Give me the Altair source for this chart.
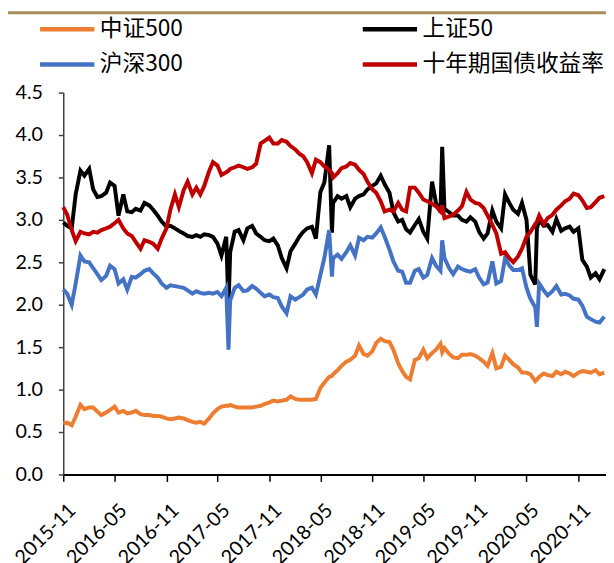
import altair as alt
import pandas as pd

series_names = ["中证500", "上证50", "沪深300", "十年期国债收益率"]
series_colors = ["#ED7D31", "#000000", "#4472C4", "#C00000"]
# the legend fills its two columns top-down, so this order gives rows 中证500/上证50, 沪深300/十年期
legend_order = ["中证500", "沪深300", "上证50", "十年期国债收益率"]
legend_colors = ["#ED7D31", "#4472C4", "#000000", "#C00000"]

# half-month sampling dates, 2015-11-01 ... 2021-02-01
dates = []
for yr in range(2015, 2022):
    for mo in range(1, 13):
        for dd in (1, 15):
            s = f"{yr}-{mo:02d}-{dd:02d}"
            if "2015-11-01" <= s <= "2021-02-01":
                dates.append(s)

orange = [0.60, 0.61, 0.58, 0.68, 0.82, 0.77, 0.79, 0.79, 0.74, 0.70, 0.73, 0.76, 0.80, 0.73, 0.75, 0.72,
          0.73, 0.75, 0.71, 0.70, 0.70, 0.69, 0.69, 0.68, 0.66, 0.65, 0.66, 0.67, 0.66, 0.64, 0.62, 0.61,
          0.62, 0.60, 0.66, 0.72, 0.77, 0.80, 0.81, 0.82, 0.80, 0.79, 0.79, 0.79, 0.79, 0.80, 0.81, 0.83,
          0.85, 0.87, 0.86, 0.87, 0.88, 0.92, 0.89, 0.88, 0.88, 0.88, 0.88, 0.89, 1.02, 1.08, 1.15,
          1.18, 1.23, 1.28, 1.33, 1.35, 1.40, 1.52, 1.42, 1.40, 1.45, 1.55, 1.60, 1.57, 1.56, 1.47, 1.31,
          1.22, 1.15, 1.12, 1.35, 1.37, 1.47, 1.37, 1.43, 1.47, 1.54, 1.49, 1.42, 1.38, 1.37, 1.41, 1.41,
          1.42, 1.40, 1.37, 1.33, 1.28, 1.43, 1.25, 1.27, 1.40, 1.35, 1.30, 1.26, 1.20, 1.20, 1.18, 1.10,
          1.15, 1.19, 1.17, 1.16, 1.21, 1.18, 1.21, 1.19, 1.16, 1.20, 1.22, 1.21, 1.20, 1.23, 1.18, 1.20]

black = [2.97, 2.93, 2.90, 3.30, 3.58, 3.52, 3.60, 3.36, 3.27, 3.28, 3.32, 3.44, 3.40, 3.05, 3.30, 3.10,
         3.09, 3.13, 3.11, 3.20, 3.17, 3.12, 3.05, 2.98, 2.92, 2.93, 2.90, 2.87, 2.84, 2.81, 2.80, 2.82,
         2.80, 2.83, 2.82, 2.80, 2.72, 2.58, 2.80, 2.62, 2.86, 2.88, 2.76, 2.90, 2.93, 2.84, 2.80, 2.76,
         2.75, 2.78, 2.70, 2.55, 2.43, 2.63, 2.72, 2.80, 2.86, 2.90, 2.92, 2.78, 3.33, 3.44, 3.88,
         3.20, 3.28, 3.25, 3.28, 3.15, 3.25, 3.28, 3.30, 3.36, 3.40, 3.43, 3.52, 3.42, 3.32, 3.09, 2.98,
         3.00, 2.89, 2.85, 2.94, 3.01, 2.86, 2.78, 3.45, 3.20, 3.09, 3.13, 3.09, 3.05, 3.05, 3.00, 2.98,
         3.03, 2.98, 2.86, 2.78, 2.84, 3.11, 2.98, 2.90, 3.30, 3.20, 3.12, 3.07, 3.20, 3.00, 2.35, 2.24,
         3.00, 2.93, 2.94, 2.86, 3.01, 2.87, 2.90, 2.92, 2.86, 2.90, 2.53, 2.45, 2.32, 2.37, 2.30, 2.42]

blue = [2.18, 2.13, 2.00, 2.25, 2.58, 2.51, 2.50, 2.43, 2.36, 2.29, 2.34, 2.46, 2.42, 2.25, 2.30, 2.18,
        2.33, 2.32, 2.36, 2.40, 2.42, 2.37, 2.32, 2.25, 2.20, 2.23, 2.22, 2.21, 2.20, 2.17, 2.13, 2.16,
        2.14, 2.13, 2.14, 2.13, 2.15, 2.10, 2.20, 2.05, 2.20, 2.23, 2.16, 2.17, 2.22, 2.19, 2.14, 2.10,
        2.12, 2.09, 2.08, 1.98, 1.90, 2.10, 2.06, 2.09, 2.12, 2.18, 2.20, 2.12, 2.35, 2.55, 2.88,
        2.55, 2.59, 2.54, 2.62, 2.70, 2.58, 2.79, 2.76, 2.80, 2.79, 2.84, 2.91, 2.80, 2.65, 2.51, 2.40,
        2.39, 2.26, 2.26, 2.40, 2.42, 2.32, 2.35, 2.55, 2.46, 2.40, 2.55, 2.43, 2.36, 2.45, 2.42, 2.40,
        2.39, 2.42, 2.32, 2.24, 2.26, 2.51, 2.25, 2.28, 2.55, 2.46, 2.41, 2.41, 2.43, 2.20, 2.07, 1.97,
        2.25, 2.17, 2.11, 2.16, 2.22, 2.12, 2.13, 2.11, 2.07, 2.06, 1.99, 1.86, 1.83, 1.80, 1.79, 1.86]

red = [3.15, 3.06, 2.88, 2.75, 2.86, 2.84, 2.83, 2.86, 2.85, 2.88, 2.90, 2.92, 2.96, 3.00, 2.90, 2.84,
       2.81, 2.74, 2.66, 2.76, 2.74, 2.72, 2.66, 2.78, 2.90, 3.12, 3.30, 3.15, 3.35, 3.45, 3.30, 3.38,
       3.30, 3.40, 3.57, 3.68, 3.64, 3.53, 3.56, 3.60, 3.62, 3.64, 3.62, 3.60, 3.62, 3.66, 3.90, 3.93,
       3.97, 3.90, 3.90, 3.94, 3.92, 3.87, 3.83, 3.78, 3.75, 3.68, 3.55, 3.71, 3.68, 3.63, 3.59,
       3.50, 3.55, 3.61, 3.63, 3.67, 3.65, 3.59, 3.54, 3.45, 3.36, 3.32, 3.22, 3.10, 3.12, 3.10, 3.20,
       3.12, 3.10, 3.38, 3.38, 3.32, 3.24, 3.22, 3.19, 3.16, 3.10, 3.02, 3.04, 3.06, 3.11, 3.16, 3.33,
       3.24, 3.20, 3.19, 3.14, 3.05, 2.94, 2.84, 2.60, 2.62, 2.55, 2.50, 2.57, 2.66, 2.80, 2.86, 2.95,
       3.05, 2.95, 3.02, 3.06, 3.12, 3.17, 3.22, 3.25, 3.31, 3.29, 3.23, 3.14, 3.15, 3.21, 3.26, 3.28]

# short one-day spikes read between the sampling dates
extra_dates = ["2017-06-09", "2018-06-11", "2019-07-07", "2020-06-07"]
extra_orange = [0.81, 1.16, 1.44, 1.12]
extra_black = [1.97, 2.85, 3.86, 2.90]
extra_blue = [1.47, 2.33, 2.76, 1.74]
extra_red = [3.58, 3.55, 3.17, 2.98]

all_dates = dates + extra_dates
values = {
    "中证500": orange + extra_orange,
    "上证50": black + extra_black,
    "沪深300": blue + extra_blue,
    "十年期国债收益率": red + extra_red,
}
rows = []
for name in series_names:
    for d, v in zip(all_dates, values[name]):
        rows.append({"date": d, "value": v, "series": name})
df = pd.DataFrame(rows).sort_values(["series", "date"])

tick_dates = [alt.DateTime(year=y, month=m, date=1, utc=True)
              for y, m in [(2015, 11), (2016, 5), (2016, 11), (2017, 5), (2017, 11), (2018, 5),
                           (2018, 11), (2019, 5), (2019, 11), (2020, 5), (2020, 11)]]
y_ticks = [0.0, 0.5, 1.0, 1.5, 2.0, 2.5, 3.0, 3.5, 4.0, 4.5]

x_enc = alt.X(
    "date:T",
    title=None,
    scale=alt.Scale(type="utc",
                    domain=[alt.DateTime(year=2015, month=11, date=1, utc=True),
                            alt.DateTime(year=2021, month=2, date=7, utc=True)]),
    axis=alt.Axis(values=tick_dates, labelExpr="utcFormat(datum.value, '%Y-%m')", labelAngle=-45,
                  labelAlign="right", labelBaseline="middle", labelPadding=26, labelOffset=9,
                  labelFont="Lato", labelFontSize=20, labelColor="#000000",
                  domainColor="#000000", domainWidth=2, tickColor="#000000", tickWidth=1.5,
                  tickSize=7, grid=False, labelFlush=False, labelOverlap=False),
)
y_enc = alt.Y(
    "value:Q",
    title=None,
    scale=alt.Scale(domain=[0, 4.5], nice=False, zero=True),
    axis=alt.Axis(values=y_ticks, format=".1f", labelFont="Lato", labelFontSize=20,
                  labelColor="#000000", labelPadding=16, tickSize=5, tickColor="#404040",
                  domainColor="#404040", domainWidth=1.5, tickWidth=1.5, grid=False,
                  labelFlush=False),
)
color_enc = alt.Color(
    "series:N",
    scale=alt.Scale(domain=legend_order, range=legend_colors),
    legend=alt.Legend(orient="none", legendX=-26, legendY=-78, columns=2, title=None,
                      symbolType="M-1,0H4", symbolSize=484, symbolStrokeWidth=4.5,
                      symbolFillColor="transparent",
                      labelFont="Noto Sans CJK SC", labelFontSize=23, labelColor="#000000",
                      labelOffset=36, labelLimit=400, columnPadding=172, rowPadding=10,
                      padding=0),
)

base = alt.Chart(df).mark_line(strokeWidth=4).encode(x=x_enc, y=y_enc, color=color_enc)
layers = [base.transform_filter(alt.datum.series == n) for n in series_names]

top_rule = alt.Chart(pd.DataFrame({"k": [0]})).mark_rule(color="#a88f5c", strokeWidth=3).encode(
    x=alt.value(-56), x2=alt.value(550), y=alt.value(-81)
)

chart = alt.layer(*layers, top_rule).properties(
    width=550, height=387,
    autosize=alt.AutoSizeParams(type="none"),
    padding={"left": 56, "top": 82, "right": 0, "bottom": 86},
).configure_view(stroke=None)

chart.save("out.html", embed_options={"renderer": "svg", "actions": False})
